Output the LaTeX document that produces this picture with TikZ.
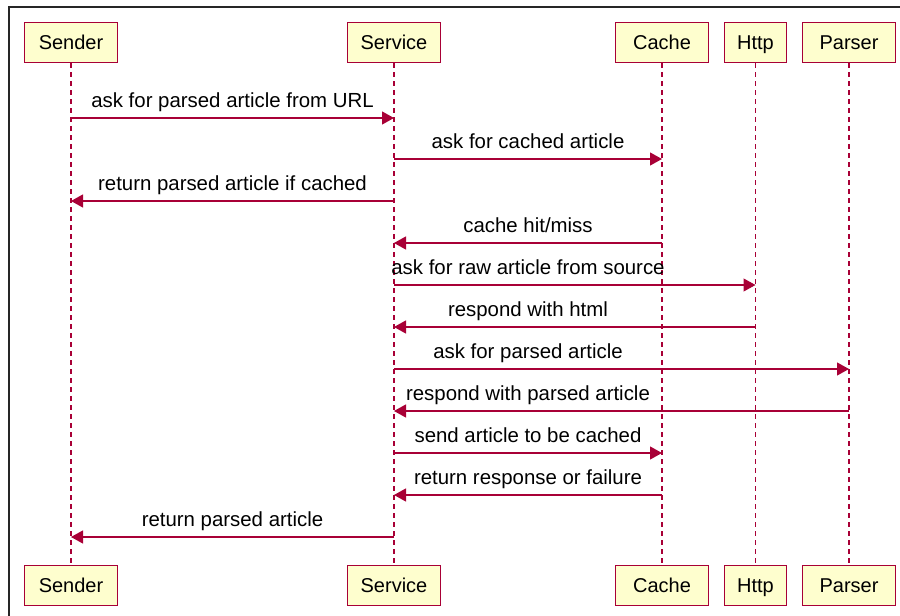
\documentclass[tikz,border=0pt]{standalone}
\usepackage{fontspec}
\setmainfont{Liberation Sans}
\usetikzlibrary{arrows.meta}
\definecolor{plred}{HTML}{A80036}
\definecolor{plfill}{HTML}{FEFECE}
\begin{document}
\begin{tikzpicture}[x=1pt,y=-1pt,
  part/.style={draw=plred, fill=plfill, line width=1.4pt, inner sep=0pt,
    minimum height=40pt, minimum width=93pt, text height=14.5pt, text depth=0pt,
    font=\fontsize{20}{24}\selectfont},
  life/.style={draw=plred, line width=1.2pt, dash pattern=on 5pt off 4pt},
  msg/.style={draw=plred, line width=1.2pt, -{Triangle[length=12pt,width=13pt]}},
  lbl/.style={anchor=base, font=\fontsize{20.4}{24}\selectfont, inner sep=0pt},
]
\useasboundingbox (0,0) rectangle (900,616);
\draw[line width=1.3pt, color=black!85] (9,616) -- (9,7) -- (900,7);

% participants (top)
\node[part] (sendT) at (71,42.5) {Sender};
\node[part] (servT) at (394,42.5) {Service};
\node[part] (cacheT) at (662,42.5) {Cache};
\node[part, minimum width=62pt] (httpT) at (755.5,42.5) {Http};
\node[part] (parsT) at (849,42.5) {Parser};
% participants (bottom)
\node[part] (sendB) at (71,585.5) {Sender};
\node[part] (servB) at (394,585.5) {Service};
\node[part] (cacheB) at (662,585.5) {Cache};
\node[part, minimum width=62pt] (httpB) at (755.5,585.5) {Http};
\node[part] (parsB) at (849,585.5) {Parser};

% lifelines
\draw[life] (sendT.south) -- (sendB.north);
\draw[life] (servT.south) -- (servB.north);
\draw[life] (cacheT.south) -- (cacheB.north);
\draw[life] (httpT.south) -- (httpB.north);
\draw[life] (parsT.south) -- (parsB.north);

% messages
\draw[msg] (sendT |- 0,118) -- (servT |- 0,118);
\node[lbl] (l1) at (232.5,107.5) {ask for parsed article from URL};
\draw[msg] (servT |- 0,159) -- (cacheT |- 0,159);
\node[lbl] (l2) at (528,148.5) {ask for cached article};
\draw[msg] (servT |- 0,201) -- (sendT |- 0,201);
\node[lbl] (l3) at (232.5,190.5) {return parsed article if cached};
\draw[msg] (cacheT |- 0,243) -- (servT |- 0,243);
\node[lbl] (l4) at (528,232.5) {cache hit/miss};
\draw[msg] (servT |- 0,285) -- (httpT |- 0,285);
\node[lbl] (l5) at (528,274.5) {ask for raw article from source};
\draw[msg] (httpT |- 0,327) -- (servT |- 0,327);
\node[lbl] (l6) at (528,316.5) {respond with html};
\draw[msg] (servT |- 0,369) -- (parsT |- 0,369);
\node[lbl] (l7) at (528,358.5) {ask for parsed article};
\draw[msg] (parsT |- 0,411) -- (servT |- 0,411);
\node[lbl] (l8) at (528,400.5) {respond with parsed article};
\draw[msg] (servT |- 0,453) -- (cacheT |- 0,453);
\node[lbl] (l9) at (528,442.5) {send article to be cached};
\draw[msg] (cacheT |- 0,495) -- (servT |- 0,495);
\node[lbl] (l10) at (528,484.5) {return response or failure};
\draw[msg] (servT |- 0,537) -- (sendT |- 0,537);
\node[lbl] (l11) at (232.5,526.5) {return parsed article};
\end{tikzpicture}
\end{document}
